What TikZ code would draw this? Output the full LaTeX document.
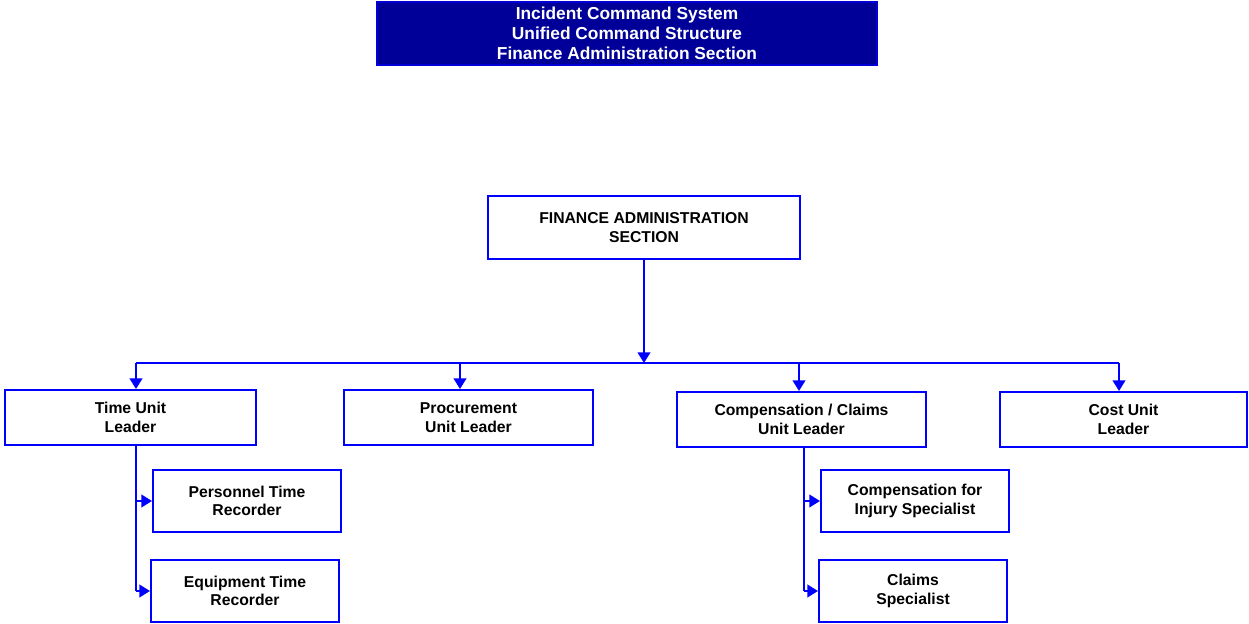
\documentclass[tikz,border=0pt]{standalone}
\usepackage{fontspec}
\setmainfont{Liberation Sans}
\usetikzlibrary{arrows.meta}
\definecolor{lineblue}{RGB}{0,0,255}
\definecolor{titleblue}{RGB}{0,0,153}
\tikzset{
  box/.style={draw=lineblue, line width=1.5pt, fill=white, inner sep=0pt, align=center,
    font=\fontsize{11.8}{14}\selectfont\bfseries},
  titlebox/.style={draw=lineblue!60!titleblue, line width=0.8pt, fill=titleblue, text=white, inner sep=0pt,
    align=center, font=\fontsize{13}{15}\selectfont\bfseries},
  conn/.style={draw=lineblue, line width=1.5pt},
  arr/.style={conn, -{Triangle[length=8pt,width=9.5pt]}},
}
\begin{document}
\begin{tikzpicture}[x=0.75pt,y=-0.75pt]
\useasboundingbox (0,0) rectangle (1249,624);
\node[titlebox, minimum width=500*0.75pt, minimum height=63*0.75pt] (title) at (627,33.5)
  {Incident Command System\\Unified Command Structure\\Finance Administration Section};
\node[box, minimum width=312*0.75pt, minimum height=63*0.75pt] (fin) at (644,227.5)
  {FINANCE ADMINISTRATION\\SECTION};
\node[box, minimum width=251*0.75pt, minimum height=55*0.75pt] (time) at (130.5,417.5) {Time Unit\\Leader};
\node[box, minimum width=249*0.75pt, minimum height=55*0.75pt] (proc) at (468.5,417.5) {Procurement\\Unit Leader};
\node[box, minimum width=249*0.75pt, minimum height=55*0.75pt] (comp) at (801.5,419.5) {Compensation / Claims\\Unit Leader};
\node[box, minimum width=247*0.75pt, minimum height=55*0.75pt] (cost) at (1123.5,419.5) {Cost Unit\\Leader};
\node[box, minimum width=188*0.75pt, minimum height=62*0.75pt] (pers) at (247,501) {Personnel Time\\Recorder};
\node[box, minimum width=188*0.75pt, minimum height=62*0.75pt] (equip) at (245,591) {Equipment Time\\Recorder};
\node[box, minimum width=188*0.75pt, minimum height=62*0.75pt] (cinj) at (915,501) {Compensation for\\Injury Specialist};
\node[box, minimum width=188*0.75pt, minimum height=62*0.75pt] (claims) at (913,591) {Claims\\Specialist};
% bus
\coordinate (bus) at (644,363);
\coordinate (bL) at (136,363);
\coordinate (bP) at (460,363);
\coordinate (bC) at (799,363);
\coordinate (bR) at (1119,363);
\coordinate (tV) at (136,0);
\coordinate (cV) at (804,0);
\draw[arr] (fin.south) -- (bus);
\draw[conn] (bL) -- (bR);
\draw[arr] (bL) -- (bL |- time.north);
\draw[arr] (bP) -- (bP |- proc.north);
\draw[arr] (bC) -- (bC |- comp.north);
\draw[arr] (bR) -- (bR |- cost.north);
% time sub
\draw[conn] (tV |- time.south) -- (tV |- equip.west);
\draw[arr] (tV |- pers.west) -- (pers.west);
\draw[arr] (tV |- equip.west) -- (equip.west);
% comp sub
\draw[conn] (cV |- comp.south) -- (cV |- claims.west);
\draw[arr] (cV |- cinj.west) -- (cinj.west);
\draw[arr] (cV |- claims.west) -- (claims.west);
\end{tikzpicture}
\end{document}
